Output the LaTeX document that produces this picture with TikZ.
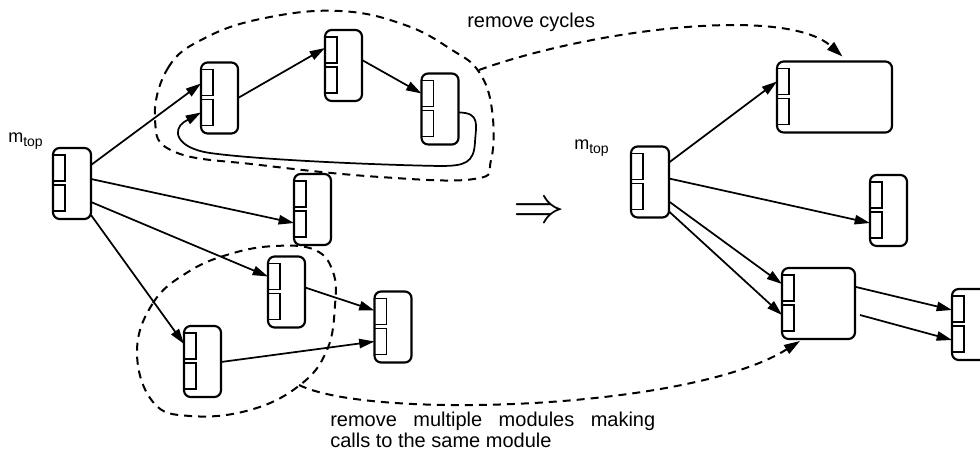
\documentclass[tikz,border=0pt]{standalone}
\usepackage{fontspec}
\usepackage{graphicx}
\setmainfont{Liberation Sans}
\usetikzlibrary{arrows.meta,calc}

% A module: rounded box with two small slots on its left edge.
% #1 width (px), #2 name, #3 centre
\newcommand\modulebox[3][37]{%
  \node[modbox, minimum width=#1*0.75pt] (#2) at (#3) {};
  \draw[slot] ($(#2.north west)+(0,7)$) rectangle ++(12,26);
  \draw[slot] ($(#2.north west)+(0,37)$) rectangle ++(12,26);
}

\begin{document}
\begin{tikzpicture}[x=0.75pt,y=-0.75pt,
  modbox/.style={draw, line width=1.6pt, rounded corners=5pt,
    minimum height=53.25pt, inner sep=0pt, outer sep=0pt},
  slot/.style={draw, line width=1.4pt},
  call/.style={line width=1.3pt, -{Triangle[length=11.5pt,width=7pt]}},
  hint/.style={line width=1.5pt, dash pattern=on 6pt off 4.5pt},
  hintarrow/.style={hint, -{Triangle[length=12pt,width=7.5pt]}},
  note/.style={font=\fontsize{15pt}{15.75pt}\selectfont, inner sep=0pt}
]
\useasboundingbox (0,0) rectangle (980,459);
\clip (0,0) rectangle (980,459);

% ---------- call graph before the transformation ----------
\modulebox[38]{mtopL}{72,183.5}
\modulebox{cycA}{219.5,98}
\modulebox{cycB}{343.5,65.5}
\modulebox{cycC}{440,109}
\modulebox{midD}{312.5,209.5}
\modulebox{shE}{286.5,292}
\modulebox{shF}{393,327}
\modulebox{shG}{202.5,361.5}

\node[anchor=base west, inner sep=0pt] (mtopLname) at (8,143)
  {\fontsize{13.5pt}{16pt}\selectfont m\raisebox{-2.5pt}{\fontsize{10.5pt}{12pt}\selectfont top}};

\draw[call] ($(mtopL.north east)+(0,17)$) -- ($(cycA.north west)+(0,21)$);
\draw[call] ($(mtopL.north east)+(0,31)$) -- ($(midD.north west)+(0,49)$);
\draw[call] ($(mtopL.north east)+(0,54)$) -- ($(shE.north west)+(0,20)$);
\draw[call] ($(mtopL.north east)+(0,67)$) -- ($(shG.north west)+(0,18)$);
\draw[call] (cycA.east) -- ($(cycB.north west)+(0,18)$);
\draw[call] ($(cycB.north east)+(0,30)$) -- ($(cycC.north west)+(0,20)$);
\draw[call] ($(shE.north east)+(0,31)$) -- ($(shF.north west)+(0,19)$);
\draw[call] ($(shG.north east)+(0,36)$) -- ($(shF.north west)+(0,50)$);

% back edge closing the cycle
\draw[call] ($(cycC.north east)+(0,39)$)
  .. controls +(22,0) and (476,125) .. (475,142)
  .. controls (474,163) and (465,166) .. (440,166)
  .. controls (380,165) and (260,160) .. (210,153)
  .. controls (176,148) and (172,130) .. (184,122)
  -- ($(cycA.north west)+(0,50)$);

% regions that get collapsed
\draw[hint] plot[smooth cycle, tension=0.7] coordinates {
  (155,120) (168,68) (205,38) (265,18) (340,11) (405,25) (452,50)
  (479,72) (492,110) (491,160) (474,179) (380,177) (260,165) (175,152)};
\draw[hint] plot[smooth cycle, tension=0.7] coordinates {
  (137,352) (153,303) (188,272) (230,254) (275,246) (315,250) (333,272)
  (335,305) (327,350) (300,385) (250,410) (190,416) (153,402)};

% ---------- transformation symbol ----------
\node (impl) at (539,213)
  {\fontsize{24.88pt}{26pt}\selectfont\scalebox{1.55}[1.55]{$\Rightarrow$}};

% ---------- call graph after the transformation ----------
\modulebox[38]{mtopR}{650,182}
\modulebox[115]{mergedCyc}{834.5,97}
\modulebox{midR}{888.5,210.5}
\modulebox[73]{mergedSh}{818.5,303.5}
\modulebox{shR}{970.5,324.5}

\node[anchor=base west, inner sep=0pt] (mtopRname) at (574,150)
  {\fontsize{13.5pt}{16pt}\selectfont m\raisebox{-2.5pt}{\fontsize{10.5pt}{12pt}\selectfont top}};

\draw[call] ($(mtopR.north east)+(0,16)$) -- ($(mergedCyc.north west)+(0,20)$);
\draw[call] ($(mtopR.north east)+(0,32)$) -- ($(midR.north west)+(0,48)$);
\draw[call] ($(mtopR.north east)+(0,55)$) -- ($(mergedSh.north west)+(0,16)$);
\draw[call] ($(mtopR.north east)+(0,65)$) -- ($(mergedSh.north west)+(0,47)$);
\draw[call] ($(mergedSh.north east)+(1,19)$) -- ($(shR.north west)+(0,21)$);
\draw[call] ($(mergedSh.north east)+(5,47)$) -- ($(shR.north west)+(0,51)$);

% ---------- dashed hints with their captions ----------
\coordinate (cycOut) at (479,70);
\draw[hintarrow] (cycOut) .. controls (590,30) and (785,5) .. ($(mergedCyc.north)+(8,-5)$);
\node[note, anchor=base west] (cycText) at (467,28) {remove cycles};

\coordinate (shOut) at (299,385);
\draw[hintarrow] (shOut) .. controls (370,420) and (690,410) .. ($(mergedSh.south west)+(18,2)$);
\node[note, anchor=base west] (shText1) at (330,426)
  {\makebox[243.75pt][s]{remove multiple modules making}};
\node[note, anchor=base west] (shText2) at (330,447) {calls to the same module};
\end{tikzpicture}
\end{document}
